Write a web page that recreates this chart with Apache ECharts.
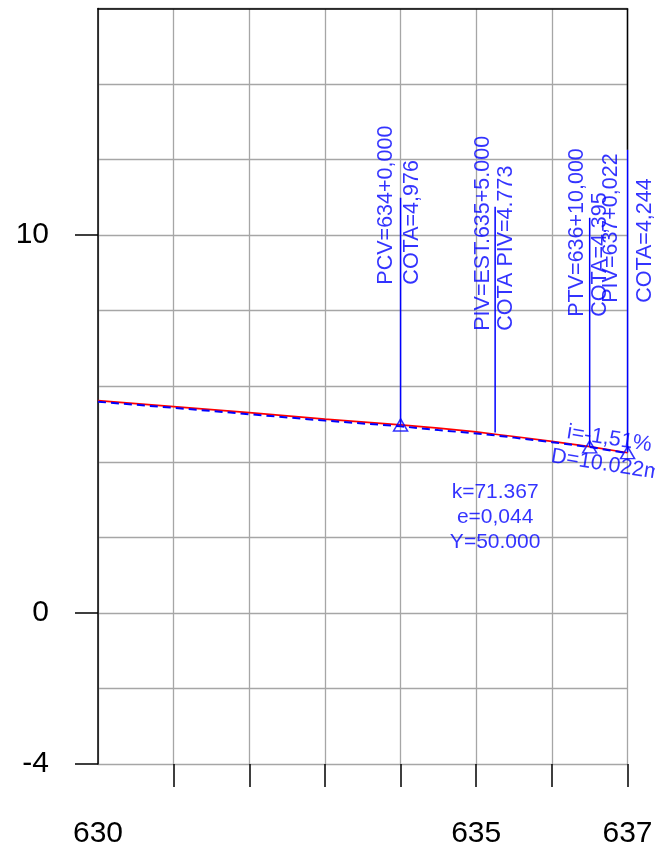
<!DOCTYPE html>
<html><head><meta charset="utf-8">
<script src="https://cdn.jsdelivr.net/npm/echarts@6/dist/echarts.min.js"></script>
<style>html,body{margin:0;padding:0;background:#fff}#c{width:655px;height:852px}</style>
</head><body><div id="c"></div>
<script>
// ---- data ----
const xTickLabels = [630, 635, 637];
const xTicks = [631, 632, 633, 634, 635, 636, 637];
const yTickLabels = [-4, 0, 10];
const stations    = [630, 631, 632, 633, 634, 634.5, 635, 635.25, 635.5, 636, 636.5, 637.0011];
const profileRed  = [5.62, 5.46, 5.30, 5.13, 4.98, 4.89, 4.79, 4.73, 4.67, 4.54, 4.40, 4.24];
const profileBlue = [5.59, 5.43, 5.26, 5.09, 4.94, 4.84, 4.75, 4.70, 4.64, 4.52, 4.39, 4.23];
const keyStations = [634, 635.25, 636.5, 637.0011];
const keyElev     = [4.976, 4.773, 4.395, 4.244];
const keyLineTop  = [10.99, 10.75, 10.46, 12.26];
const keyTextA = ['PCV=634+0,000', 'PIV=EST.635+5.000', 'PTV=636+10,000', 'PIV=637+0,022'];
const keyTextB = ['COTA=4,976', 'COTA PIV=4.773', 'COTA=4,395', 'COTA=4,244'];
const triangleIdx = [0, 2, 3];
const curveParams = ['k=71.367', 'e=0,044', 'Y=50.000'];
const gradeText = ['i=-1,51%', 'D=10.022m'];

// ---- layout (positions/styles, not data) ----
const textStartY = [8.69, 7.47, 7.84, 8.21];
const textDx = [[-14, 12], [-12.5, 11], [-12.7, 10], [-16.5, 17.5]];
const curveLabelAt = [635.25, 2.54];
const gradeLabelAt = [[636.76, 4.61], [636.72, 3.92]];
const rightFrame = [637, 16, 12.26];

const BLUE = '#0000ff';
const FONT = 'Liberation Sans, Arial, sans-serif';
const TXT = 21.5;

const series = [];
series.push({
  type: 'line', name: 'red', data: stations.map((x, i) => [x, profileRed[i]]),
  symbol: 'none', lineStyle: { color: '#ff0000', width: 1.7 }, z: 3, clip: false
});
series.push({
  type: 'line', name: 'blue', data: stations.map((x, i) => [x, profileBlue[i]]),
  symbol: 'none', lineStyle: { color: BLUE, width: 2, type: [8, 5] }, z: 3, clip: false
});
keyStations.forEach((x, i) => {
  series.push({
    type: 'line', data: [[x, keyElev[i]], [x, keyLineTop[i]]], symbol: 'none',
    lineStyle: { color: BLUE, width: 1.5 }, z: 4, clip: false
  });
});
series.push({
  type: 'line', data: [[rightFrame[0], rightFrame[1]], [rightFrame[0], rightFrame[2]]], symbol: 'none',
  lineStyle: { color: '#000', width: 1.5 }, z: 5, clip: false
});
series.push({
  type: 'scatter', data: triangleIdx.map(i => [keyStations[i], keyElev[i]]),
  symbol: 'triangle', symbolSize: [14, 12],
  itemStyle: { color: 'rgba(0,0,0,0)', borderColor: BLUE, borderWidth: 1.5 }, z: 6, clip: false
});
const labelData = [];
keyStations.forEach((x, i) => {
  [keyTextA[i], keyTextB[i]].forEach((t, j) => {
    labelData.push({
      value: [x, textStartY[i]],
      label: { show: true, formatter: t, position: [textDx[i][j], 0], rotate: 90,
               align: 'left', verticalAlign: 'middle', color: BLUE, fontSize: TXT, fontFamily: FONT }
    });
  });
});
labelData.push({
  value: curveLabelAt,
  label: { show: true, formatter: curveParams.join('\n'), position: [0, 0], align: 'center',
           verticalAlign: 'middle', lineHeight: 25, color: BLUE, fontSize: 21, fontFamily: FONT }
});
gradeText.forEach((t, k) => {
  labelData.push({
    value: gradeLabelAt[k],
    label: { show: true, formatter: t, position: [0, 0], rotate: -9, align: 'center',
             verticalAlign: 'middle', color: BLUE, fontSize: TXT, fontFamily: FONT }
  });
});
series.push({
  type: 'scatter', data: labelData, symbolSize: 0, clip: false, z: 7, silent: true
});

const chart = echarts.init(document.getElementById('c'), null, { renderer: 'canvas' });
chart.setOption({
  animation: false,
  backgroundColor: '#fff',
  grid: { left: 98, right: 27.5, top: 8.5, bottom: 88, outerBoundsMode: 'none' },
  xAxis: [{
    type: 'value', min: 630, max: 637, interval: 1,
    axisLine: { show: false, onZero: false },
    axisTick: { show: false },
    axisLabel: { show: false },
    splitLine: { show: true, lineStyle: { color: '#a6a6a6', width: 1.3 } }
  }, {
    type: 'value', position: 'top', min: 630, max: 637,
    axisLine: { show: true, onZero: false, lineStyle: { color: '#000', width: 1.5 } },
    axisTick: { show: false }, axisLabel: { show: false }, splitLine: { show: false }
  }, {
    type: 'value', position: 'bottom', min: 630, max: 637, interval: 1,
    axisLine: { show: false, onZero: false },
    axisTick: { show: true, customValues: xTicks, length: 23, lineStyle: { color: '#000', width: 1.5 } },
    axisLabel: { customValues: xTickLabels, fontSize: 30, color: '#000', margin: 55, fontFamily: FONT },
    splitLine: { show: false }
  }],
  yAxis: [{
    type: 'value', min: -4, max: 16, interval: 2,
    axisLine: { show: true, onZero: false, lineStyle: { color: '#000', width: 1.5 } },
    axisTick: { show: false }, axisLabel: { show: false },
    splitLine: { show: true, lineStyle: { color: '#a6a6a6', width: 1.3 } }
  }, {
    type: 'value', position: 'left', min: -4, max: 16, interval: 2,
    axisLine: { show: false, onZero: false },
    axisTick: { show: true, customValues: yTickLabels, length: 23, lineStyle: { color: '#000', width: 1.5 } },
    axisLabel: { customValues: yTickLabels, fontSize: 30, color: '#000', margin: 49, fontFamily: FONT },
    splitLine: { show: false }
  }],
  series: series
});
</script></body></html>
